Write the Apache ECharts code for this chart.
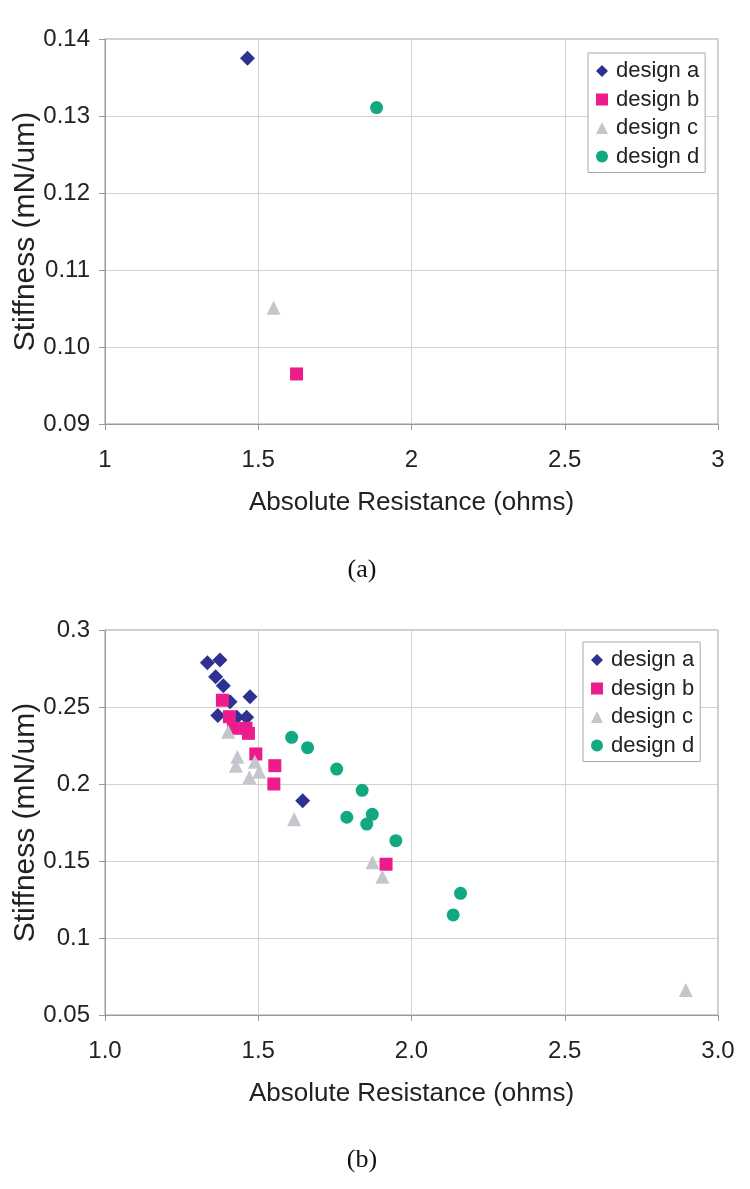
<!DOCTYPE html>
<html>
<head>
<meta charset="utf-8">
<script src="https://cdn.jsdelivr.net/npm/echarts@6/dist/echarts.min.js"></script>
<style>
html,body{margin:0;padding:0;background:#fff;}
#chart{width:750px;height:1189px;}
</style>
</head>
<body>
<div id="chart"></div>
<script>
// ---- Data ----
const designNames = ['design a', 'design b', 'design c', 'design d'];
const designSymbols = ['diamond', 'rect', 'triangle', 'circle'];
const designColors = ['#2e3192', '#ec1c8c', '#c3c7cc', '#12a982'];

// Panel (a): [resistance (ohms), stiffness (mN/um)]
const panelA_designA = [[1.465, 0.1375]];
const panelA_designB = [[1.625, 0.0965]];
const panelA_designC = [[1.550, 0.1051]];
const panelA_designD = [[1.886, 0.1311]];

// Panel (b)
const panelB_designA = [
  [1.334, 0.2788], [1.375, 0.2805], [1.361, 0.2697], [1.386, 0.2638],
  [1.473, 0.2567], [1.408, 0.2534], [1.368, 0.2444], [1.462, 0.2433],
  [1.430, 0.2433], [1.645, 0.1892]
];
const panelB_designB = [
  [1.383, 0.2544], [1.406, 0.2437], [1.419, 0.2362], [1.460, 0.2362],
  [1.468, 0.2329], [1.492, 0.2195], [1.554, 0.2119], [1.551, 0.2000],
  [1.917, 0.1479]
];
const panelB_designC = [
  [1.402, 0.2340], [1.432, 0.2177], [1.427, 0.2119], [1.489, 0.2145],
  [1.503, 0.2080], [1.471, 0.2044], [1.617, 0.1771], [1.873, 0.1492],
  [1.905, 0.1398], [2.895, 0.0662]
];
const panelB_designD = [
  [1.609, 0.2303], [1.661, 0.2236], [1.756, 0.2097], [1.839, 0.1959],
  [1.789, 0.1784], [1.872, 0.1803], [1.854, 0.1740], [1.949, 0.1632],
  [2.160, 0.1290], [2.136, 0.1150]
];

const xAxisTitle = 'Absolute Resistance (ohms)';
const yAxisTitle = 'Stiffness (mN/um)';
const captions = ['(a)', '(b)'];

const panelAData = [panelA_designA, panelA_designB, panelA_designC, panelA_designD];
const panelBData = [panelB_designA, panelB_designB, panelB_designC, panelB_designD];

// ---- Styling ----
const FONT = 'Liberation Sans, Arial, Helvetica, sans-serif';
const symbolSizes = [15, 13, 14, 13];

function makeXAxis(gridIndex, fmt) {
  return {
    type: 'value', gridIndex: gridIndex, min: 1, max: 3, interval: 0.5,
    name: xAxisTitle, nameLocation: 'middle', nameGap: 66, nameMoveOverlap: false,
    nameTextStyle: { fontFamily: FONT, fontSize: 26, color: '#222' },
    axisLine: { show: true, onZero: false, lineStyle: { color: '#9a9a9a', width: 1 } },
    axisTick: { show: true, inside: false, length: 6, lineStyle: { color: '#9a9a9a' } },
    axisLabel: { show: true, margin: 24, fontFamily: FONT, fontSize: 24, color: '#222',
      showMinLabel: true, showMaxLabel: true, hideOverlap: false, formatter: fmt },
    splitLine: { show: true, lineStyle: { color: '#d2d2d2', width: 1 } }
  };
}
function makeYAxis(gridIndex, min, max, interval, fmt) {
  return {
    type: 'value', gridIndex: gridIndex, min: min, max: max, interval: interval,
    name: yAxisTitle, nameLocation: 'middle', nameGap: 64, nameRotate: 90, nameMoveOverlap: false,
    nameTextStyle: { fontFamily: FONT, fontSize: 30, color: '#222' },
    axisLine: { show: true, onZero: false, lineStyle: { color: '#9a9a9a', width: 1 } },
    axisTick: { show: true, inside: false, length: 6, lineStyle: { color: '#9a9a9a' } },
    axisLabel: { show: true, margin: 15, fontFamily: FONT, fontSize: 24, color: '#222',
      showMinLabel: true, showMaxLabel: true, hideOverlap: false, formatter: fmt },
    splitLine: { show: true, lineStyle: { color: '#d2d2d2', width: 1 } }
  };
}
function makeLegend(left, top) {
  return {
    orient: 'vertical', left: left, top: top,
    data: designNames.map((n, i) => ({ name: n, icon: designSymbols[i] })),
    itemWidth: 12, itemHeight: 12, itemGap: 6.5,
    padding: [7, 6, 5, 8],
    borderColor: '#a8a8a8', borderWidth: 1, backgroundColor: '#fff',
    textStyle: { fontFamily: FONT, fontSize: 22, color: '#222', lineHeight: 22, padding: [0, 0, 0, 3] },
    selectedMode: false
  };
}

const series = [];
[panelAData, panelBData].forEach((panel, gi) => {
  panel.forEach((pts, i) => {
    series.push({
      type: 'scatter', name: designNames[i],
      xAxisIndex: gi, yAxisIndex: gi,
      data: pts,
      symbol: designSymbols[i], symbolSize: symbolSizes[i],
      itemStyle: { color: designColors[i], opacity: 1, borderWidth: 0 },
      emphasis: { disabled: true },
      z: 2 + i
    });
  });
});

const gridCommon = { width: 613, height: 385, show: true, borderColor: '#9a9a9a', borderWidth: 1, containLabel: false, outerBoundsMode: 'none' };

const option = {
  backgroundColor: '#fff',
  animation: false,
  grid: [
    Object.assign({ left: 105, top: 39 }, gridCommon),
    Object.assign({ left: 105, top: 630 }, gridCommon)
  ],
  xAxis: [
    makeXAxis(0, v => String(+v.toFixed(1))),
    makeXAxis(1, v => v.toFixed(1))
  ],
  yAxis: [
    makeYAxis(0, 0.09, 0.14, 0.01, v => v.toFixed(2)),
    makeYAxis(1, 0.05, 0.3, 0.05, v => String(+v.toFixed(2)))
  ],
  legend: [ makeLegend(588, 53), makeLegend(583, 642) ],
  graphic: [
    { type: 'text', x: 362, y: 570, style: { text: captions[0], font: '26px "Liberation Serif", "Times New Roman", serif', fill: '#111', align: 'center', verticalAlign: 'middle' } },
    { type: 'text', x: 362, y: 1160, style: { text: captions[1], font: '26px "Liberation Serif", "Times New Roman", serif', fill: '#111', align: 'center', verticalAlign: 'middle' } }
  ],
  series: series
};

const chart = echarts.init(document.getElementById('chart'), null, { renderer: 'canvas' });
chart.setOption(option);
</script>
</body>
</html>
